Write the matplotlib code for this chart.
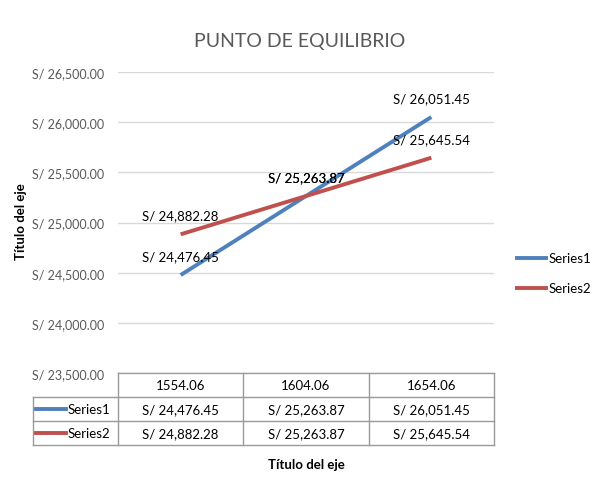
import matplotlib
matplotlib.use("Agg")
import matplotlib.pyplot as plt
from matplotlib.lines import Line2D
from matplotlib.ticker import FuncFormatter

plt.rcParams['font.family'] = ['Lato', 'DejaVu Sans']

categories = ["1554.06", "1604.06", "1654.06"]
series1 = [24476.45, 25263.87, 26051.45]
series2 = [24882.28, 25263.87, 25645.54]
series_names = ["Series1", "Series2"]
title = "PUNTO DE EQUILIBRIO"
axis_title = "Título del eje"

colors = ["#4f81bd", "#c0504d"]
W, H = 601, 485
fig = plt.figure(figsize=(W / 100, H / 100), dpi=100)
L, R, T, B = 118, 494, 73, 374
ax = fig.add_axes([L / W, 1 - B / H, (R - L) / W, (B - T) / H])

x = list(range(len(categories)))
ax.set_xlim(-0.5, len(categories) - 0.5)
ax.set_ylim(23500, 26500)
ax.set_yticks([23500, 24000, 24500, 25000, 25500, 26000, 26500])
ax.yaxis.set_major_formatter(FuncFormatter(lambda v, p: f"S/ {v:,.2f}"))
ax.tick_params(axis='y', length=0, labelsize=9, labelcolor="#595959", pad=10)
ax.set_xticks([])
ax.grid(axis='y', color="#d9d9d9", linewidth=1)
ax.set_axisbelow(True)
for s in ax.spines.values():
    s.set_visible(False)

for vals, c in zip([series1, series2], colors):
    ax.plot(x, vals, color=c, linewidth=2.8, solid_capstyle='butt', zorder=3)
    for xi, v in zip(x, vals):
        ax.annotate(f"S/ {v:,.2f}", (xi, v), xytext=(0, 20), textcoords="offset pixels",
                    ha="center", va="center_baseline", fontsize=9.5, color="black", zorder=4)

fig.text(300 / W, 1 - 42 / H, title, ha="center", va="center", fontsize=14, color="#595959")
fig.text(21 / W, 1 - 222 / H, axis_title, ha="center", va="center", rotation=90,
         fontsize=9.5, fontweight="bold")
fig.text(306 / W, 1 - 465 / H, axis_title, ha="center", va="center",
         fontsize=9.5, fontweight="bold")

# data table
border = "#9a9a9a"
row_h = 24
col_edges = [L + (R - L) * i / len(categories) for i in range(len(categories) + 1)]
leg_left = 33
def fx(px): return px / W
def fy(py): return 1 - py / H
def hline(x0, x1, y):
    fig.add_artist(Line2D([fx(x0), fx(x1)], [fy(y), fy(y)], color=border, linewidth=1))
def vline(xp, y0, y1):
    fig.add_artist(Line2D([fx(xp), fx(xp)], [fy(y0), fy(y1)], color=border, linewidth=1))

nrows = 3
hline(L, R, B)
for r in range(1, nrows + 1):
    hline(leg_left, R, B + r * row_h)
vline(leg_left, B + row_h, B + nrows * row_h)
for xe in col_edges:
    vline(xe, B, B + nrows * row_h)

for i, cat in enumerate(categories):
    cx = (col_edges[i] + col_edges[i + 1]) / 2
    fig.text(fx(cx), fy(B + row_h / 2), cat, ha="center", va="center", fontsize=9.5)
for r, (vals, name, c) in enumerate(zip([series1, series2], series_names, colors), start=1):
    yc = B + r * row_h + row_h / 2
    fig.add_artist(Line2D([fx(36), fx(66)], [fy(yc), fy(yc)], color=c, linewidth=2.8))
    fig.text(fx(68), fy(yc), name, ha="left", va="center", fontsize=9.5)
    for i, v in enumerate(vals):
        cx = (col_edges[i] + col_edges[i + 1]) / 2
        fig.text(fx(cx), fy(yc), f"S/ {v:,.2f}", ha="center", va="center", fontsize=9.5)

# right legend
for k, (name, c) in enumerate(zip(series_names, colors)):
    yc = 259 + 30 * k
    fig.add_artist(Line2D([fx(517), fx(546)], [fy(yc), fy(yc)], color=c, linewidth=2.8))
    fig.text(fx(549), fy(yc), name, ha="left", va="center", fontsize=9.5)

fig.savefig("out.png", dpi=100)
